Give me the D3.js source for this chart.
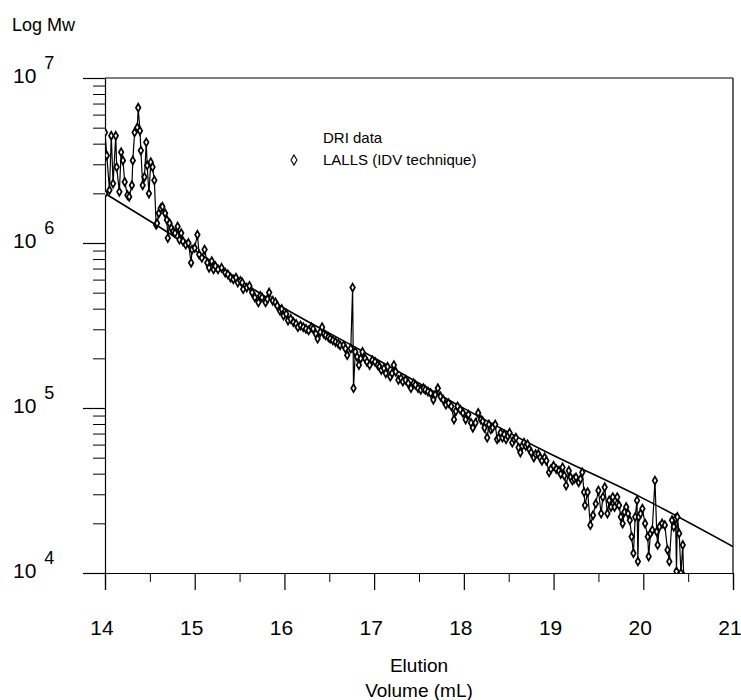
<!DOCTYPE html>
<html>
<head>
<meta charset="utf-8">
<script src="https://cdn.jsdelivr.net/npm/d3@7"></script>
<style>
	body { margin: 0; background: #fff; }
	text { font-family: "Liberation Sans", Arial, sans-serif; fill: #000; }
</style>
</head>
<body>
<div id="chart"></div>
<script>
// LALLS points, elution volume (mL) and log Mw
const lallsVolume = [
	14.00, 14.00, 14.02, 14.05, 14.07, 14.09, 14.12, 14.13, 14.16, 14.18,
	14.20, 14.22, 14.25, 14.27, 14.30, 14.31, 14.33, 14.36, 14.37, 14.39,
	14.40, 14.42, 14.44, 14.46, 14.47, 14.49, 14.51, 14.53, 14.55, 14.57,
	14.58, 14.60, 14.62, 14.64, 14.67, 14.69, 14.70, 14.72, 14.74, 14.76,
	14.78, 14.81, 14.83, 14.85, 14.87, 14.90, 14.93, 14.96, 14.97, 15.00,
	15.03, 15.05, 15.08, 15.11, 15.14, 15.16, 15.19, 15.21, 15.23, 15.26,
	15.30, 15.34, 15.37, 15.40, 15.43, 15.46, 15.48, 15.51, 15.53, 15.54,
	15.58, 15.61, 15.64, 15.67, 15.71, 15.73, 15.75, 15.79, 15.81, 15.83,
	15.87, 15.90, 15.92, 15.95, 15.97, 15.99, 16.02, 16.04, 16.07, 16.10,
	16.13, 16.15, 16.18, 16.21, 16.24, 16.27, 16.30, 16.32, 16.35, 16.37,
	16.40, 16.42, 16.44, 16.46, 16.49, 16.51, 16.54, 16.57, 16.60, 16.62,
	16.66, 16.68, 16.70, 16.74, 16.76, 16.77, 16.79, 16.81, 16.83, 16.85,
	16.87, 16.90, 16.92, 16.95, 16.98, 17.01, 17.04, 17.06, 17.08, 17.11,
	17.13, 17.15, 17.18, 17.20, 17.22, 17.24, 17.27, 17.30, 17.32, 17.35,
	17.38, 17.41, 17.44, 17.46, 17.49, 17.52, 17.55, 17.57, 17.60, 17.63,
	17.66, 17.68, 17.71, 17.74, 17.77, 17.80, 17.83, 17.86, 17.89, 17.91,
	17.93, 17.96, 17.99, 18.02, 18.05, 18.08, 18.10, 18.13, 18.16, 18.19,
	18.21, 18.23, 18.26, 18.28, 18.30, 18.32, 18.35, 18.37, 18.39, 18.41,
	18.43, 18.45, 18.47, 18.49, 18.51, 18.54, 18.56, 18.58, 18.61, 18.63,
	18.65, 18.67, 18.69, 18.71, 18.73, 18.75, 18.78, 18.80, 18.83, 18.85,
	18.87, 18.90, 18.92, 18.95, 18.97, 19.00, 19.03, 19.06, 19.08, 19.10,
	19.12, 19.14, 19.17, 19.19, 19.21, 19.23, 19.25, 19.28, 19.30, 19.32,
	19.34, 19.35, 19.38, 19.41, 19.44, 19.47, 19.50, 19.53, 19.55, 19.57,
	19.60, 19.62, 19.64, 19.66, 19.68, 19.71, 19.73, 19.75, 19.77, 19.79,
	19.81, 19.83, 19.85, 19.87, 19.89, 19.91, 19.93, 19.94, 19.95, 19.97,
	19.99, 20.02, 20.05, 20.06, 20.08, 20.10, 20.13, 20.15, 20.16, 20.18,
	20.21, 20.24, 20.27, 20.29, 20.32, 20.34, 20.36, 20.37, 20.38, 20.40,
	20.42, 20.44, 20.45
];
const lallsLogMw = [
	6.30, 6.67, 6.53, 6.32, 6.65, 6.36, 6.65, 6.46, 6.31, 6.55,
	6.50, 6.37, 6.29, 6.28, 6.35, 6.50, 6.67, 6.70, 6.82, 6.68,
	6.56, 6.35, 6.40, 6.61, 6.47, 6.30, 6.49, 6.46, 6.38, 6.11,
	6.12, 6.18, 6.21, 6.22, 6.18, 6.14, 6.03, 6.12, 6.09, 6.07,
	6.06, 6.10, 6.02, 6.06, 6.01, 5.99, 6.00, 5.88, 5.96, 5.97,
	6.05, 5.93, 5.91, 5.96, 5.88, 5.85, 5.89, 5.84, 5.86, 5.84,
	5.85, 5.82, 5.81, 5.79, 5.78, 5.79, 5.76, 5.77, 5.76, 5.72,
	5.73, 5.74, 5.70, 5.67, 5.64, 5.68, 5.67, 5.64, 5.66, 5.70,
	5.65, 5.64, 5.62, 5.59, 5.60, 5.56, 5.57, 5.53, 5.54, 5.52,
	5.51, 5.49, 5.50, 5.49, 5.48, 5.47, 5.49, 5.48, 5.45, 5.42,
	5.46, 5.49, 5.45, 5.44, 5.43, 5.42, 5.41, 5.40, 5.39, 5.38,
	5.38, 5.36, 5.32, 5.36, 5.73, 5.12, 5.34, 5.31, 5.26, 5.30,
	5.34, 5.30, 5.28, 5.26, 5.29, 5.28, 5.26, 5.25, 5.23, 5.24,
	5.21, 5.25, 5.19, 5.21, 5.26, 5.22, 5.17, 5.18, 5.16, 5.17,
	5.15, 5.12, 5.15, 5.14, 5.12, 5.11, 5.12, 5.11, 5.10, 5.09,
	5.05, 5.08, 5.12, 5.07, 5.05, 5.02, 5.03, 5.01, 4.93, 4.98,
	5.01, 4.99, 4.97, 4.93, 4.96, 4.91, 4.88, 4.91, 4.97, 4.93,
	4.92, 4.88, 4.82, 4.90, 4.87, 4.88, 4.90, 4.81, 4.82, 4.85,
	4.82, 4.84, 4.81, 4.83, 4.85, 4.79, 4.81, 4.82, 4.76, 4.73,
	4.77, 4.79, 4.77, 4.78, 4.75, 4.73, 4.70, 4.72, 4.72, 4.70,
	4.68, 4.70, 4.68, 4.61, 4.63, 4.65, 4.63, 4.62, 4.60, 4.64,
	4.59, 4.53, 4.62, 4.58, 4.56, 4.57, 4.58, 4.55, 4.57, 4.61,
	4.49, 4.41, 4.49, 4.29, 4.35, 4.42, 4.50, 4.36, 4.46, 4.52,
	4.36, 4.44, 4.40, 4.46, 4.40, 4.46, 4.41, 4.34, 4.30, 4.37,
	4.40, 4.36, 4.32, 4.22, 4.12, 4.34, 4.44, 4.07, 4.34, 4.36,
	4.39, 4.30, 4.22, 4.10, 4.24, 4.26, 4.56, 4.25, 4.17, 4.28,
	4.30, 4.29, 4.14, 4.07, 4.32, 4.28, 4.33, 4.01, 4.34, 4.24,
	4.00, 4.17, 3.98
];

// DRI calibration curve
const driVolume = [14.00, 14.54, 15.95, 16.85, 17.96, 18.86, 19.97, 21.00];
const driLogMw = [6.30, 6.12, 5.62, 5.35, 5.01, 4.75, 4.46, 4.16];

const xTicks = [14, 15, 16, 17, 18, 19, 20, 21];
const xMinorTicks = [14.5, 15.5, 16.5, 17.5, 18.5, 19.5, 20.5];
const yExponents = [4, 5, 6, 7];
const legendLabels = ["DRI data", "LALLS (IDV technique)"];

let svg = d3.select("#chart")
	.append("svg")
	.attr("width", 741)
	.attr("height", 700);

let x = d3.scaleLinear().domain([14, 21]).range([105, 733]);
let y = d3.scaleLinear().domain([4, 7]).range([573, 78]);

// minor y ticks at 2..9 times each decade
let yMinor = [];
for (let e = 4; e < 7; e++) {
	for (let k = 2; k < 10; k++) yMinor.push(e + Math.log10(k));
}

let axes = svg.append("g").attr("stroke", "#000").attr("stroke-width", 1.2);

// x axis, major and minor ticks
svg.append("g")
	.attr("transform", "translate(0,573)")
	.call(d3.axisBottom(x).tickValues(xTicks).tickSize(17).tickFormat(""))
	.call(g => g.selectAll("line,path").attr("stroke-width", 1.2));
svg.append("g")
	.attr("transform", "translate(0,573)")
	.call(d3.axisBottom(x).tickValues(xMinorTicks).tickSize(9).tickFormat(""))
	.call(g => g.select(".domain").remove());

// y axis
svg.append("g")
	.attr("transform", "translate(105,0)")
	.call(d3.axisLeft(y).tickValues(yExponents).tickSize(22).tickSizeOuter(0).tickFormat(""))
	.call(g => g.selectAll("line,path").attr("stroke-width", 1.2));
svg.append("g")
	.attr("transform", "translate(105,0)")
	.call(d3.axisLeft(y).tickValues(yMinor).tickSize(12).tickFormat(""))
	.call(g => g.select(".domain").remove());

// frame top and right
axes.append("line").attr("x1", 105).attr("x2", 733).attr("y1", y(7)).attr("y2", y(7));
axes.append("line").attr("x1", 733).attr("x2", 733).attr("y1", y(7)).attr("y2", y(4));

// tick labels
svg.append("g").selectAll("text")
	.data(xTicks)
	.enter().append("text")
	.attr("x", d => x(d) - 3)
	.attr("y", 635)
	.attr("text-anchor", "middle")
	.style("font-size", "21px")
	.text(d => d);

let yLab = svg.append("g").selectAll("text")
	.data(yExponents)
	.enter().append("text")
	.attr("x", 13)
	.attr("y", d => y(d) + 5)
	.style("font-size", "21px");
yLab.append("tspan").text("10");
yLab.append("tspan")
	.attr("dx", 8)
	.attr("dy", -14)
	.style("font-size", "18px")
	.text(d => d);

// axis titles
svg.append("text").attr("x", 12).attr("y", 31).style("font-size", "18px").text("Log Mw");
svg.append("text").attr("x", 419).attr("y", 672).attr("text-anchor", "middle")
	.style("font-size", "19px").text("Elution");
svg.append("text").attr("x", 419).attr("y", 697).attr("text-anchor", "middle")
	.style("font-size", "19px").text("Volume (mL)");

// plot area clip
svg.append("clipPath").attr("id", "plotclip")
	.append("rect").attr("x", 105).attr("y", 78).attr("width", 628).attr("height", 495);

let plot = svg.append("g").attr("clip-path", "url(#plotclip)");

let driLine = d3.line()
	.x(d => x(d[0]))
	.y(d => y(d[1]))
	.curve(d3.curveMonotoneX);

plot.append("path")
	.datum(d3.zip(driVolume, driLogMw))
	.attr("d", driLine)
	.attr("fill", "none")
	.attr("stroke", "#000")
	.attr("stroke-width", 1.6);

let lalls = d3.zip(lallsVolume, lallsLogMw);

plot.append("path")
	.datum(lalls)
	.attr("d", d3.line().x(d => x(d[0])).y(d => y(d[1])))
	.attr("fill", "none")
	.attr("stroke", "#000")
	.attr("stroke-width", 1.2);

let diamond = d3.symbol().type(d3.symbolDiamond).size(18);

plot.selectAll(".pt")
	.data(lalls)
	.enter().append("path")
	.attr("class", "pt")
	.attr("transform", d => "translate(" + x(d[0]) + "," + y(d[1]) + ")")
	.attr("d", diamond)
	.attr("fill", "#fff")
	.attr("stroke", "#000")
	.attr("stroke-width", 1.7);

// legend
svg.append("text").attr("x", 323).attr("y", 143).style("font-size", "15px").text(legendLabels[0]);
svg.append("text").attr("x", 323).attr("y", 165).style("font-size", "15px").text(legendLabels[1]);
svg.append("path")
	.attr("transform", "translate(294,160)")
	.attr("d", d3.symbol().type(d3.symbolDiamond).size(30))
	.attr("fill", "#fff")
	.attr("stroke", "#000")
	.attr("stroke-width", 1.1);
</script>
</body>
</html>
